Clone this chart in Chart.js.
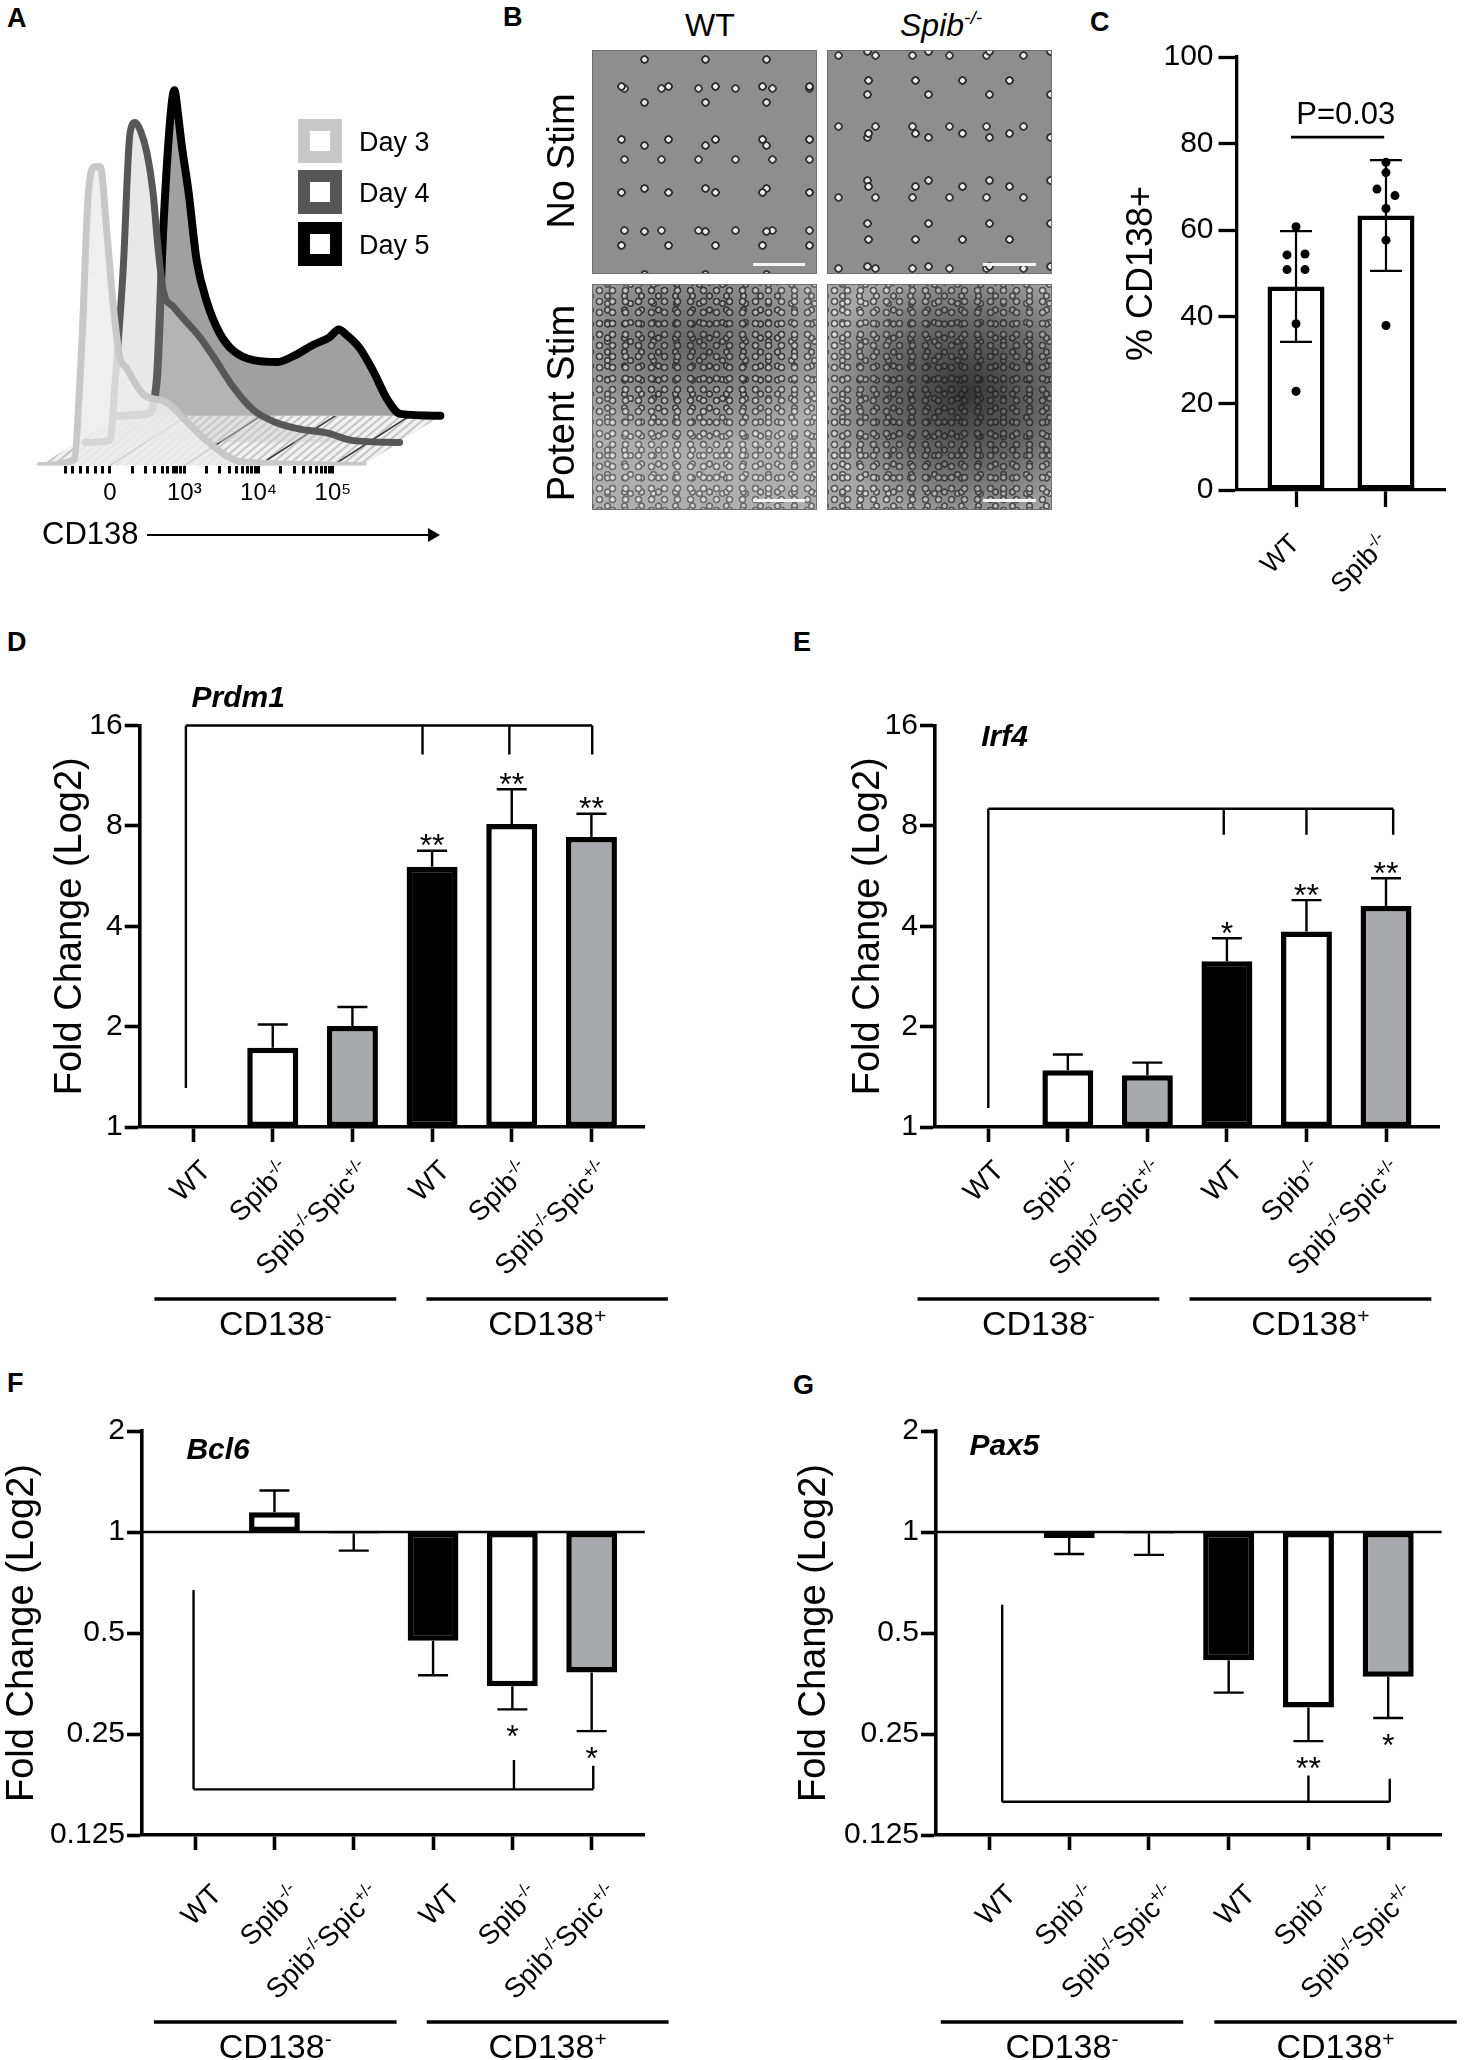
<!DOCTYPE html>
<html>
<head>
<meta charset="utf-8">
<title>CD138 / Spib figure</title>
<script src="https://cdn.jsdelivr.net/npm/chart.js@4.4.1/dist/chart.umd.min.js"></script>
<style>
  body { margin: 0; background: #fff; }
  #page { position: relative; width: 1464px; height: 2060px; overflow: hidden; background: #fff;
          font-family: "Liberation Sans", Arial, sans-serif; color: #000; }
  #page canvas, .t, .box, .img, .sbar, .arrow { position: absolute; }
  .t { line-height: 1; white-space: nowrap; }
  .letter { font-weight: bold; font-size: 27px; }
  .hdr { font-size: 32px; }
  .hdr sup { font-size: 60%; vertical-align: 0; position: relative; top: -0.62em; }
  .row { font-size: 38px; transform: translate(-50%, -50%) rotate(-90deg); }
  .box { width: 44px; height: 44px; box-sizing: border-box; border: 12px solid #000; background: #fff; }
  .leg { font-size: 27px; }
  .img { box-sizing: border-box; border: 1px solid #6f6f6f; }
  .nostim {
    background-color: #8e8e8e;
    background-image:
      radial-gradient(circle, #f0f0f0 0 2px, #2f2f2f 2.7px 4px, rgba(0,0,0,0) 4.6px),
      radial-gradient(circle, #e6e6e6 0 2px, #333 2.7px 4px, rgba(0,0,0,0) 4.6px),
      radial-gradient(circle, #ececec 0 2px, #3b3b3b 2.7px 4px, rgba(0,0,0,0) 4.6px);
    background-size: 47px 53px, 61px 43px, 37px 71px;
    background-position: 5px 9px, 21px 30px, 13px 2px;
  }
  .potent {
    background-color: #a2a2a2;
    background-image:
      radial-gradient(circle, #f4f4f4 0 1.8px, #2a2a2a 2.5px 3.6px, rgba(0,0,0,0) 4.2px),
      radial-gradient(circle, #dedede 0 1.6px, #262626 2.3px 3.4px, rgba(0,0,0,0) 4px),
      radial-gradient(circle, #e8e8e8 0 1.6px, #303030 2.3px 3.4px, rgba(0,0,0,0) 4px);
    background-size: 13px 11px, 17px 14px, 23px 19px;
    background-position: 0 0, 6px 4px, 3px 9px;
  }
  .potent .shade { position: absolute; inset: 0; }
  .sbar { height: 3px; background: #f4f4f4; }
  .arrow { height: 2px; background: #000; }
  .arrow::after { content: ""; position: absolute; right: -10px; top: -6px;
                  border-left: 12px solid #000; border-top: 7px solid transparent; border-bottom: 7px solid transparent; }
</style>
</head>
<body>
<div id="page">
  <!-- panel letters -->
  <div class="t letter" style="left:7px;top:4.5px">A</div>
  <div class="t letter" style="left:503px;top:3.5px">B</div>
  <div class="t letter" style="left:1090px;top:8.5px">C</div>
  <div class="t letter" style="left:7px;top:628.5px">D</div>
  <div class="t letter" style="left:793px;top:628.5px">E</div>
  <div class="t letter" style="left:7px;top:1369.5px">F</div>
  <div class="t letter" style="left:793px;top:1371.5px">G</div>

  <!-- A: histogram + legend -->
  <canvas id="chartA" width="560" height="560" style="left:0;top:0"></canvas>
  <div class="box" style="left:298px;top:119px;border-color:#c8c8c8"></div>
  <div class="box" style="left:298px;top:170px;border-color:#575757"></div>
  <div class="box" style="left:298px;top:221.5px;border-color:#000"></div>
  <div class="t leg" id="leg0" style="left:359px;top:128.5px"></div>
  <div class="t leg" id="leg1" style="left:359px;top:180px"></div>
  <div class="t leg" id="leg2" style="left:359px;top:231.5px"></div>
  <div class="t" style="left:42px;top:517.5px;font-size:31px">CD138</div>
  <div class="arrow" style="left:147px;top:533.5px;width:283px"></div>

  <!-- B: micrographs -->
  <div class="t hdr" style="left:685px;top:8.8px">WT</div>
  <div class="t hdr" style="left:900px;top:8.8px;font-style:italic">Spib<sup>-/-</sup></div>
  <div class="t row" style="left:561px;top:161px">No Stim</div>
  <div class="t row" style="left:561px;top:403px">Potent Stim</div>
  <div class="img nostim" style="left:592px;top:50px;width:225px;height:224px"></div>
  <div class="img nostim" style="left:827px;top:50px;width:225px;height:224px;background-position:17px 3px, 9px 22px, 29px 40px"></div>
  <div class="img potent" style="left:592px;top:284px;width:225px;height:226px">
    <div class="shade" style="background:radial-gradient(ellipse 70% 48% at 45% 26%, rgba(60,60,60,0.6) 0%, rgba(90,90,90,0.35) 55%, rgba(190,190,190,0.45) 100%)"></div>
  </div>
  <div class="img potent" style="left:827px;top:284px;width:225px;height:226px">
    <div class="shade" style="background:radial-gradient(ellipse 65% 60% at 62% 48%, rgba(35,35,35,0.85) 0%, rgba(65,65,65,0.6) 55%, rgba(175,175,175,0.35) 100%)"></div>
  </div>
  <div class="sbar" style="left:753px;top:263px;width:52px"></div>
  <div class="sbar" style="left:983px;top:263px;width:53px"></div>
  <div class="sbar" style="left:753px;top:499px;width:52px"></div>
  <div class="sbar" style="left:983px;top:499px;width:53px"></div>

  <!-- C -->
  <canvas id="chartC" width="384" height="600" style="left:1080px;top:0"></canvas>

  <!-- D - G -->
  <canvas id="chartD" width="730" height="740" style="left:0;top:620px"></canvas>
  <canvas id="chartE" width="734" height="740" style="left:730px;top:620px"></canvas>
  <canvas id="chartF" width="730" height="720" style="left:0;top:1340px"></canvas>
  <canvas id="chartG" width="734" height="720" style="left:730px;top:1340px"></canvas>
</div>

<script>
// ---------- A: CD138 histograms (normalised to mode) ----------
const dayNames = ['Day 3', 'Day 4', 'Day 5'];
const cd138TickPos = [0, 1, 2, 3];
const cd138TickLabels = ['0', '10³', '10⁴', '10⁵'];

const day3Pos = [-0.94, -0.49, -0.38, -0.29, -0.20, -0.13, -0.045, 0.045, 0.13, 0.22, 0.45, 0.76, 1.03, 1.30, 1.57, 1.75, 3.41];
const day3Count = [0, 1.8, 38.9, 88.4, 96.4, 96.4, 76, 51.3, 35.2, 31.5, 22.9, 20.4, 14.2, 8, 3.1, 1.2, 0];

const day4Pos = [-0.85, -0.52, -0.45, -0.34, -0.25, -0.18, -0.11, -0.02, 0.06, 0.13, 0.20, 0.33, 0.51, 0.69, 0.87, 1.14, 1.41, 1.68, 2.04, 2.40, 2.76, 3.38];
const day4Count = [0, 0.6, 19.2, 56.2, 99.5, 103.2, 100.7, 93.3, 80.9, 62.4, 48.8, 43.9, 38.9, 34, 27.8, 17.9, 10.5, 6.8, 4.3, 3.1, 0.6, 0];

const day5Pos = [-0.92, -0.54, -0.41, -0.32, -0.23, -0.17, -0.12, -0.07, 0.02, 0.13, 0.27, 0.44, 0.62, 0.89, 1.21, 1.43, 1.70, 1.92, 2.04, 2.15, 2.33, 2.51, 2.69, 2.87, 3.41];
const day5Count = [0, 0.6, 10.5, 59.9, 94.5, 105, 97, 87.1, 72.3, 50.1, 36.5, 26.6, 21, 17.9, 17.3, 19.2, 22.9, 25.3, 27.8, 26, 21.6, 14.2, 5.5, 0.6, 0];

// ---------- C: % CD138+ ----------
const cGroups = ['WT', 'Spib-/-'];
const cMean = [47.0, 63.4];
const cSd = [12.8, 12.8];
const cWtDots = [60.8, 54.3, 54.5, 50.9, 50.9, 38.4, 22.8];
const cWtJitter = [0, -0.1, 0.1, -0.1, 0.1, 0, 0];
const cSpibDots = [75.7, 73.3, 69.5, 68.0, 65.0, 57.7, 38.0];
const cSpibJitter = [0, 0, -0.1, 0.1, 0, 0, 0];
const cTicks = [0, 20, 40, 60, 80, 100];
const cPText = 'P=0.03';

// ---------- D-G: fold change (log2 axis) ----------
const categories = ['WT', 'Spib-/-', 'Spib-/-Spic+/-', 'WT', 'Spib-/-', 'Spib-/-Spic+/-'];
const groupNames = ['CD138-', 'CD138+'];
const upTicks = [1, 2, 4, 8, 16];
const downTicks = [0.125, 0.25, 0.5, 1, 2];

const prdm1Fold = [1, 1.73, 2.01, 6.03, 8.1, 7.41];
const prdm1Err = [null, 2.03, 2.29, 6.74, 10.3, 8.7];
const prdm1Sig = ['', '', '', '**', '**', '**'];

const irf4Fold = [1, 1.48, 1.43, 3.14, 3.86, 4.6];
const irf4Err = [null, 1.65, 1.56, 3.68, 4.79, 5.57];
const irf4Sig = ['', '', '', '*', '**', '**'];

const bcl6Fold = [1, 1.146, 0.99, 0.474, 0.347, 0.381];
const bcl6Err = [null, 1.33, 0.88, 0.374, 0.296, 0.255];
const bcl6Sig = ['', '', '', '', '*', '*'];

const pax5Fold = [1, 0.96, 0.99, 0.415, 0.30, 0.37];
const pax5Err = [null, 0.86, 0.855, 0.332, 0.238, 0.279];
const pax5Sig = ['', '', '', '', '**', '*'];

// ---------- styling ----------
const FONT = '"Liberation Sans", Arial, sans-serif';
const barFills = ['#ffffff', '#ffffff', '#a7a9ac', '#000000', '#ffffff', '#a7a9ac'];
Chart.defaults.font.family = FONT;
Chart.defaults.color = '#000';

dayNames.forEach((n, i) => { document.getElementById('leg' + i).textContent = n; });

// text with superscript runs, e.g. "Spib-/-Spic+/-"
function richParts(str) {
  const parts = [];
  str.replace(/([A-Za-z0-9.]+)([-+\/]*)/g, (m, base, sup) => {
    parts.push({ text: base, sup: false });
    if (sup) parts.push({ text: sup, sup: true });
    return m;
  });
  return parts;
}

function drawRich(ctx, str, x, y, size, align, angle) {
  const parts = richParts(str);
  const fontFor = p => (p.sup ? size * 0.62 : size) + 'px ' + FONT;
  let total = 0;
  parts.forEach(p => { ctx.font = fontFor(p); p.w = ctx.measureText(p.text).width; total += p.w; });
  ctx.save();
  ctx.translate(x, y);
  if (angle) ctx.rotate(angle);
  ctx.textAlign = 'left';
  ctx.textBaseline = 'alphabetic';
  ctx.fillStyle = '#000';
  let cx = align === 'right' ? -total : align === 'center' ? -total / 2 : 0;
  parts.forEach(p => {
    ctx.font = fontFor(p);
    ctx.fillText(p.text, cx, p.sup ? -size * 0.36 : 0);
    cx += p.w;
  });
  ctx.restore();
}

// ---------- A ----------
const aArea = { left: 20, right: 470, top: 60, bottom: 465.5 };
const aZeroX = 110, aPxX = 74.3, aPxY = 3.1;
const layerShift = [[0, 0], [38.5, -23], [77, -49.8]];   // 3-D offset of each day, px

function layerRange(k) {
  const [dx, dy] = layerShift[k];
  return {
    xmin: (aArea.left - aZeroX - dx) / aPxX,
    xmax: (aArea.right - aZeroX - dx) / aPxX,
    ymin: dy / aPxY,
    ymax: dy / aPxY + (aArea.bottom - aArea.top) / aPxY
  };
}

const aMarks = [-0.6, -0.5, -0.4, -0.3, -0.2, -0.1, 0, 0.3, 0.48, 0.6, 0.7, 0.78, 0.85, 0.9, 0.95];
[1, 2].forEach(d => { for (let k = 1; k < 10; k++) aMarks.push(d + Math.log10(k)); });
aMarks.push(3);

const aLines = [
  { pos: day3Pos, count: day3Count, line: '#c8c8c8', fill: 'rgba(236,236,236,0.85)', width: 7 },
  { pos: day4Pos, count: day4Count, line: '#575757', fill: 'rgba(205,205,205,0.45)', width: 7 },
  { pos: day5Pos, count: day5Count, line: '#000000', fill: '#a0a0a0', width: 8 }
];

// hatched 3-D floor between the front (Day 3) and back (Day 5) baselines
const aFloor = {
  id: 'aFloor',
  beforeDatasetsDraw(chart) {
    const { ctx } = chart;
    const s = chart.scales;
    const front = s.y0.getPixelForValue(0), back = s.y2.getPixelForValue(0);
    const pts = [
      [s.x0.getPixelForValue(day3Pos[0]), front],
      [s.x0.getPixelForValue(day3Pos[day3Pos.length - 1]), front],
      [s.x2.getPixelForValue(day5Pos[day5Pos.length - 1]), back],
      [s.x2.getPixelForValue(day5Pos[0]), back]
    ];
    ctx.save();
    ctx.beginPath();
    pts.forEach((p, i) => (i ? ctx.lineTo(p[0], p[1]) : ctx.moveTo(p[0], p[1])));
    ctx.closePath();
    ctx.fillStyle = '#f1f1f1';
    ctx.fill();
    ctx.clip();
    const depth = front - back;
    ctx.strokeStyle = '#c4c4c4';
    ctx.lineWidth = 2;
    for (let x = pts[0][0] - depth; x < pts[2][0] + depth; x += 9) {
      ctx.beginPath(); ctx.moveTo(x, front); ctx.lineTo(x + depth * 1.2, back); ctx.stroke();
    }
    ctx.strokeStyle = '#3a3a3a';
    ctx.lineWidth = 1.6;
    cd138TickPos.forEach(v => {
      ctx.beginPath();
      ctx.moveTo(s.x0.getPixelForValue(v), front);
      ctx.lineTo(s.x2.getPixelForValue(v), back);
      ctx.stroke();
    });
    ctx.restore();
  }
};

const aScales = {};
aLines.forEach((l, k) => {
  const r = layerRange(k);
  aScales['x' + k] = { type: 'linear', axis: 'x', position: 'bottom', display: false, min: r.xmin, max: r.xmax };
  aScales['y' + k] = { type: 'linear', axis: 'y', position: 'left', display: false, min: r.ymin, max: r.ymax };
});
Object.assign(aScales.x0, {
  display: true,
  afterBuildTicks: s => { s.ticks = aMarks.map(v => ({ value: v })); },
  afterFit: s => { s.height = 560 - aArea.bottom; },
  ticks: {
    autoSkip: false, maxRotation: 0, font: { size: 24 }, padding: 5,
    callback: v => { const k = cd138TickPos.indexOf(v); return k < 0 ? '' : cd138TickLabels[k]; }
  },
  grid: { drawOnChartArea: false, tickLength: 8, tickWidth: 3, tickColor: '#000' },
  border: { display: false }
});

new Chart(document.getElementById('chartA'), {
  type: 'line',
  data: {
    datasets: aLines.map((l, k) => ({
      label: dayNames[k],
      data: l.pos.map((x, i) => ({ x: x, y: l.count[i] })),
      xAxisID: 'x' + k,
      yAxisID: 'y' + k,
      borderColor: l.line,
      backgroundColor: l.fill,
      borderWidth: l.width,
      fill: 'origin'
    }))
  },
  options: {
    responsive: false, animation: false, devicePixelRatio: 1, events: [],
    layout: { padding: { left: aArea.left, right: 560 - aArea.right, top: aArea.top, bottom: 0 } },
    elements: {
      point: { radius: 0 },
      line: { cubicInterpolationMode: 'monotone', borderJoinStyle: 'round', borderCapStyle: 'round' }
    },
    plugins: { legend: { display: false }, tooltip: { enabled: false } },
    scales: aScales
  },
  plugins: [aFloor]
});

// ---------- C ----------
const cDecor = {
  id: 'cDecor',
  afterDatasetsDraw(chart) {
    const { ctx } = chart;
    const xs = chart.scales.x, ys = chart.scales.y;
    ctx.save();
    ctx.strokeStyle = '#000';
    ctx.lineWidth = 2.2;
    cMean.forEach((m, i) => {
      const x = xs.getPixelForValue(i);
      const hi = ys.getPixelForValue(m + cSd[i]), lo = ys.getPixelForValue(m - cSd[i]);
      ctx.beginPath();
      ctx.moveTo(x, lo); ctx.lineTo(x, hi);
      ctx.moveTo(x - 16, hi); ctx.lineTo(x + 16, hi);
      ctx.moveTo(x - 16, lo); ctx.lineTo(x + 16, lo);
      ctx.stroke();
    });
    ctx.restore();
  },
  afterDraw(chart) {
    const { ctx, chartArea } = chart;
    const xs = chart.scales.x, ys = chart.scales.y;
    ctx.save();
    ctx.strokeStyle = '#000';
    ctx.lineWidth = 2.7;
    const ly = ys.getPixelForValue(81.5);
    ctx.beginPath();
    ctx.moveTo(xs.getPixelForValue(-0.056), ly);
    ctx.lineTo(xs.getPixelForValue(0.98), ly);
    ctx.stroke();
    ctx.font = '31px ' + FONT;
    ctx.fillStyle = '#000';
    ctx.textAlign = 'center';
    ctx.textBaseline = 'middle';
    ctx.fillText(cPText, xs.getPixelForValue(0.553), ys.getPixelForValue(86.6));
    cGroups.forEach((g, i) => drawRich(ctx, g, xs.getPixelForValue(i) + 5, chartArea.bottom + 55, 27, 'right', -Math.PI / 4));
    ctx.restore();
  }
};

const cDots = cWtDots.map((v, i) => ({ x: cWtJitter[i], y: v }))
  .concat(cSpibDots.map((v, i) => ({ x: 1 + cSpibJitter[i], y: v })));

new Chart(document.getElementById('chartC'), {
  type: 'bar',
  data: {
    datasets: [
      { type: 'scatter', data: cDots, pointRadius: 4.5, pointBackgroundColor: '#000', pointBorderWidth: 0, order: 0 },
      {
        type: 'bar',
        data: cMean.map((m, i) => ({ x: i, y: m })),
        backgroundColor: '#fff', borderColor: '#000', borderWidth: 4.5, borderSkipped: false,
        barPercentage: 0.633, categoryPercentage: 1, order: 1
      }
    ]
  },
  options: {
    responsive: false, animation: false, devicePixelRatio: 1, events: [],
    layout: { padding: { left: 0, right: 19, top: 57, bottom: 0 } },
    plugins: { legend: { display: false }, tooltip: { enabled: false } },
    scales: {
      x: {
        type: 'linear', min: -0.656, max: 1.656, offset: false,
        afterBuildTicks: s => { s.ticks = cGroups.map((g, i) => ({ value: i })); },
        afterFit: s => { s.height = 110; },
        ticks: { display: false },
        grid: { offset: false, drawOnChartArea: false, tickLength: 17, tickWidth: 3.3, tickColor: '#000' },
        border: { color: '#000', width: 3.3 }
      },
      y: {
        type: 'linear', min: 0, max: 100,
        afterBuildTicks: s => { s.ticks = cTicks.map(v => ({ value: v })); },
        afterFit: s => { s.width = 157; },
        ticks: { font: { size: 30 }, color: '#000', padding: 5 },
        grid: { drawOnChartArea: false, tickLength: 18.5, tickWidth: 3.3, tickColor: '#000' },
        border: { color: '#000', width: 3.3 },
        title: { display: true, text: '% CD138+', color: '#000', font: { size: 36 }, padding: { top: 40, bottom: 0 } }
      }
    }
  },
  plugins: [cDecor]
});

// ---------- D-G ----------
function foldDecor(p) {
  return {
    id: 'foldDecor',
    afterDatasetsDraw(chart) {
      const { ctx, chartArea } = chart;
      const xs = chart.scales.x, ys = chart.scales.y;
      ctx.save();
      ctx.strokeStyle = '#000';
      ctx.fillStyle = '#000';
      ctx.lineWidth = 2.4;
      if (p.refLine) {
        const y = ys.getPixelForValue(1);
        ctx.beginPath(); ctx.moveTo(chartArea.left, y); ctx.lineTo(chartArea.right, y); ctx.stroke();
      }
      p.fold.forEach((v, i) => {
        const e = p.err[i];
        if (e == null) return;
        const x = xs.getPixelForValue(i);
        const y0 = ys.getPixelForValue(v), y1 = ys.getPixelForValue(e);
        ctx.beginPath();
        ctx.moveTo(x, y0); ctx.lineTo(x, y1);
        ctx.moveTo(x - 15, y1); ctx.lineTo(x + 15, y1);
        ctx.stroke();
        if (p.sig[i]) {
          const centre = e > v ? y1 - 13 : y1 + 19;
          ctx.font = '32px ' + FONT;
          ctx.textAlign = 'center';
          ctx.textBaseline = 'alphabetic';
          ctx.fillText(p.sig[i], x, centre + 18.5);
        }
      });
      // significance bracket
      const b = p.bracket;
      const yl = ys.getPixelForValue(b.level);
      const legX = b.legs.map(l => xs.getPixelForValue(l[0]));
      ctx.beginPath();
      ctx.moveTo(Math.min(...legX), yl);
      ctx.lineTo(Math.max(...legX), yl);
      b.legs.forEach((l, k) => { ctx.moveTo(legX[k], yl); ctx.lineTo(legX[k], ys.getPixelForValue(l[1])); });
      ctx.stroke();
      ctx.restore();
    },
    afterDraw(chart) {
      const { ctx, chartArea } = chart;
      const xs = chart.scales.x, ys = chart.scales.y;
      ctx.save();
      ctx.font = 'italic bold 30px ' + FONT;
      ctx.fillStyle = '#000';
      ctx.textAlign = 'left';
      ctx.textBaseline = 'middle';
      ctx.fillText(p.gene, xs.getPixelForValue(p.genePos[0]), ys.getPixelForValue(p.genePos[1]));
      categories.forEach((c, i) =>
        drawRich(ctx, c, xs.getPixelForValue(i) + p.labelDX, chartArea.bottom + p.labelDY, 28, 'right', -Math.PI / 4));
      const gy = chartArea.bottom + p.groupDY;
      ctx.strokeStyle = '#000';
      ctx.lineWidth = 3.6;
      p.groups.forEach((g, k) => {
        const x0 = xs.getPixelForValue(g[0]), x1 = xs.getPixelForValue(g[1]);
        ctx.beginPath(); ctx.moveTo(x0, gy); ctx.lineTo(x1, gy); ctx.stroke();
        drawRich(ctx, groupNames[k], (x0 + x1) / 2, gy + 36, 34, 'center', 0);
      });
      ctx.restore();
    }
  };
}

function foldChart(p) {
  return new Chart(document.getElementById(p.id), {
    type: 'bar',
    data: {
      datasets: [{
        data: p.fold.map((v, i) => ({ x: i, y: [1, v] })),
        backgroundColor: barFills,
        borderColor: '#000',
        borderWidth: 5.5,
        borderSkipped: false,
        barPercentage: 0.64,
        categoryPercentage: 1
      }]
    },
    options: {
      responsive: false, animation: false, devicePixelRatio: 1, events: [],
      layout: { padding: { left: 0, right: p.padRight, top: p.padTop, bottom: 0 } },
      plugins: { legend: { display: false }, tooltip: { enabled: false } },
      scales: {
        x: {
          type: 'linear', min: -0.67, max: 5.67, offset: false,
          afterBuildTicks: s => { s.ticks = categories.map((c, i) => ({ value: i })); },
          afterFit: s => { s.height = p.xAxisH; },
          ticks: { display: false },
          grid: { offset: false, drawOnChartArea: false, tickLength: 15, tickWidth: 3.6, tickColor: '#000' },
          border: { color: '#000', width: 3.6 }
        },
        y: {
          type: 'logarithmic', min: p.ticks[0], max: p.ticks[p.ticks.length - 1],
          afterBuildTicks: s => { s.ticks = p.ticks.map(v => ({ value: v })); },
          afterFit: s => { s.width = p.yAxisW; },
          ticks: { font: { size: 30 }, color: '#000', padding: 2, callback: v => String(v) },
          grid: { drawOnChartArea: false, tickLength: 15, tickWidth: 3.6, tickColor: '#000' },
          border: { color: '#000', width: 3.6 },
          title: {
            display: true, text: 'Fold Change (Log2)', color: '#000',
            font: { size: 38 }, padding: { top: p.titlePad, bottom: 0 }
          }
        }
      }
    },
    plugins: [foldDecor(p)]
  });
}

foldChart({
  id: 'chartD', fold: prdm1Fold, err: prdm1Err, sig: prdm1Sig, gene: 'Prdm1', ticks: upTicks, refLine: false,
  padTop: 105.5, padRight: 85.2, yAxisW: 139.7, xAxisH: 740 - 507, titlePad: 48,
  labelDX: 19, labelDY: 45, groupDY: 172, groups: [[-0.485, 2.55], [2.93, 5.96]],
  genePos: [-0.02, 19.25],
  bracket: { level: 16, legs: [[-0.09, 1.31], [2.88, 13.1], [3.97, 13.1], [5.01, 13.1]] }
});
foldChart({
  id: 'chartE', fold: irf4Fold, err: irf4Err, sig: irf4Sig, gene: 'Irf4', ticks: upTicks, refLine: false,
  padTop: 105.5, padRight: 24.7, yAxisW: 205, xAxisH: 740 - 507, titlePad: 116,
  labelDX: 17, labelDY: 45, groupDY: 172, groups: [[-0.89, 2.15], [2.53, 5.57]],
  genePos: [-0.09, 14.7],
  bracket: { level: 9.0, legs: [[0, 1.14], [2.96, 7.53], [4.0, 7.53], [5.09, 7.53]] }
});
foldChart({
  id: 'chartF', fold: bcl6Fold, err: bcl6Err, sig: bcl6Sig, gene: 'Bcl6', ticks: downTicks, refLine: true,
  padTop: 91, padRight: 85.2, yAxisW: 142, xAxisH: 720 - 495, titlePad: 0,
  labelDX: 28, labelDY: 61, groupDY: 187, groups: [[-0.52, 2.54], [2.92, 5.97]],
  genePos: [-0.11, 1.745],
  bracket: { level: 0.171, legs: [[-0.02, 0.672], [4.02, 0.209], [5.02, 0.201]] }
});
foldChart({
  id: 'chartG', fold: pax5Fold, err: pax5Err, sig: pax5Sig, gene: 'Pax5', ticks: downTicks, refLine: true,
  padTop: 91, padRight: 22.4, yAxisW: 206, xAxisH: 720 - 495, titlePad: 62,
  labelDX: 28, labelDY: 61, groupDY: 187, groups: [[-0.61, 2.43], [2.82, 5.86]],
  genePos: [-0.25, 1.79],
  bracket: { level: 0.157, legs: [[0.16, 0.607], [4.0, 0.188], [5.02, 0.184]] }
});
</script>
</body>
</html>
